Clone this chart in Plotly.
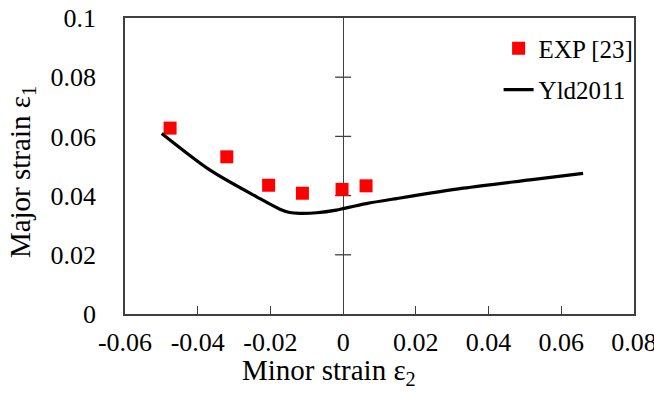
import plotly.graph_objects as go

# Experimental data (EXP [23])
exp_x = [-0.0476, -0.0320, -0.0205, -0.0112, -0.0003, 0.0063]
exp_y = [0.0628, 0.0531, 0.0435, 0.0408, 0.0421, 0.0433]

# Yld2011 prediction
yld_x = [-0.0499, -0.0366, -0.0238, -0.0174, -0.0147, -0.0119, -0.0073, -0.0019,
         0.0003, 0.0064, 0.0147, 0.0330, 0.0514, 0.0660]
yld_y = [0.0610, 0.0486, 0.0396, 0.0354, 0.0343, 0.0340, 0.0342, 0.0351,
         0.0357, 0.0373, 0.0390, 0.0425, 0.0453, 0.0475]

x_ticks = [-0.06, -0.04, -0.02, 0, 0.02, 0.04, 0.06, 0.08]
x_ticklabels = ["-0.06", "-0.04", "-0.02", "0", "0.02", "0.04", "0.06", "0.08"]
y_ticks = [0, 0.02, 0.04, 0.06, 0.08, 0.1]
y_ticklabels = ["0", "0.02", "0.04", "0.06", "0.08", "0.1"]

FONT = "Liberation Serif"
AXIS_COLOR = "#404040"

fig = go.Figure()
fig.add_trace(go.Scatter(
    x=exp_x, y=exp_y, mode="markers", name="EXP [23]", legendgroup="a",
    marker=dict(symbol="square", size=13, color="#ff0000"),
))
fig.add_trace(go.Scatter(
    x=yld_x, y=yld_y, mode="lines", name="Yld2011", legendgroup="b",
    line=dict(color="black", width=3.2, shape="spline", smoothing=0.8),
))

# cross ticks on the vertical axis at x = 0
for yv in y_ticks[1:-1]:
    fig.add_shape(type="line", xref="x", yref="y", xsizemode="pixel", xanchor=0,
                  x0=-8, x1=8, y0=yv, y1=yv,
                  line=dict(color=AXIS_COLOR, width=1.3), layer="below")

fig.update_layout(
    width=654, height=394,
    margin=dict(l=125, r=20, t=18, b=80),
    paper_bgcolor="white", plot_bgcolor="white",
    font=dict(family=FONT, size=26, color="black"),
    showlegend=True,
    legend=dict(x=0.734, y=0.975, xanchor="left", yanchor="top",
                font=dict(family=FONT, size=25, color="black"),
                bgcolor="rgba(0,0,0,0)", tracegroupgap=6, itemwidth=30),
    xaxis=dict(range=[-0.06, 0.08], tickvals=x_ticks, ticktext=x_ticklabels,
               ticks="inside", ticklen=8, tickcolor=AXIS_COLOR, tickwidth=1.3,
               showgrid=False, zeroline=True, zerolinecolor=AXIS_COLOR, zerolinewidth=1.3,
               showline=True, linecolor=AXIS_COLOR, linewidth=1.5, mirror=True,
               tickfont=dict(size=26), ticklabelstandoff=4,
               automargin=False, ticklabeloverflow="allow"),
    yaxis=dict(range=[0, 0.1], tickvals=y_ticks, ticktext=y_ticklabels,
               ticks="", showgrid=False, zeroline=False,
               showline=True, linecolor=AXIS_COLOR, linewidth=1.5, mirror=True,
               tickfont=dict(size=26), ticklabelstandoff=22,
               automargin=False, ticklabeloverflow="allow"),
    annotations=[
        dict(text="Minor strain ε<sub>2</sub>", xref="paper", yref="paper",
             x=0.40, y=-0.262, xanchor="center", yanchor="bottom", showarrow=False,
             font=dict(family=FONT, size=29, color="black")),
        dict(text="Major strain ε<sub>1</sub>", xref="paper", yref="paper",
             x=-0.202, y=0.48, xanchor="center", yanchor="middle", showarrow=False,
             textangle=-90, font=dict(family=FONT, size=29, color="black")),
    ],
)

fig.write_html("out.html",
               config={"displayModeBar": False},
               post_script="document.body.style.margin='0';document.body.style.overflow='hidden';")
